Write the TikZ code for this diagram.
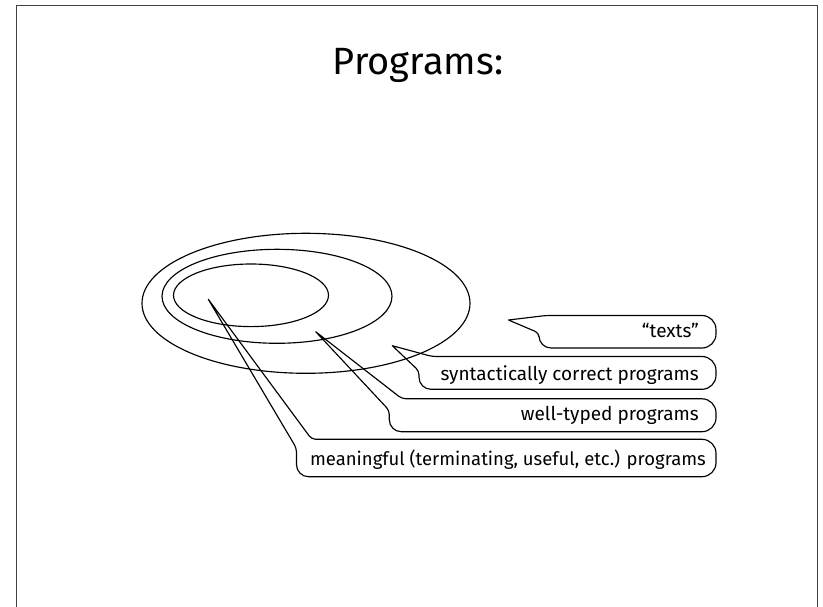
\documentclass[tikz,border=0pt]{standalone}
\usepackage{fontspec}
\setmainfont{Fira Sans}
\begin{document}
\begin{tikzpicture}[x=1pt,y=-1pt,
  outline/.style={line width=1.15pt,black},
  frameline/.style={line width=1pt,black!75},
  label/.style={font=\fontsize{19}{22}\selectfont,inner sep=0pt,anchor=base east},
  title/.style={font=\fontsize{38}{44}\selectfont,inner sep=0pt,anchor=base}]
\useasboundingbox (0,0) rectangle (823,607);

% slide frame
\draw[frameline] (16,607) -- (16,6) -- (817,6) -- (817,607);

% heading
\node[title] (heading) at (418,75) {Programs:};

% nested sets
\draw[outline] (306,303.3) ellipse[x radius=164,y radius=70];
\draw[outline] (277,296.3) ellipse[x radius=115,y radius=47];
\draw[outline] (251,295.3) ellipse[x radius=77.5,y radius=31.3];

% points inside each set
\coordinate (tipTexts) at (508.5,320);
\coordinate (tipSyn)   at (392.3,345.7);
\coordinate (tipWT)    at (315.7,331.7);
\coordinate (tipMean)  at (208.3,299.3);

% callout: #1 left, #2 right, #3 top, #4 bottom, #5 tip, #6 x where the pointer meets the top, #7 y where it meets the left side
\newcommand{\calloutbox}[7]{%
  \draw[outline,line join=round,line cap=round]
    (#5) [rounded corners=4pt] -- (#6,#3)
    [rounded corners=14pt] -- (#2,#3) -- (#2,#4)
    [rounded corners=12pt] -- (#1,#4)
    [rounded corners=4pt] -- (#1,#7)
    [sharp corners] -- (#5);}

\calloutbox{539}{716}{315.5}{348}{tipTexts}{546}{333}
\calloutbox{419}{716}{356.5}{389.3}{tipSyn}{432}{371}
\calloutbox{389.3}{716}{398.8}{431.7}{tipWT}{402}{410.5}
\calloutbox{296.5}{716}{439.3}{476.7}{tipMean}{311.7}{448.3}

\node[label] (texts) at (699,337.7) {“texts”};
\node[label] (syn)   at (699,380)   {syntactically correct programs};
\node[label] (wt)    at (699,420.7) {well-typed programs};
\node[label,font=\fontsize{18.5}{22}\selectfont] (mean) at (706,465) {meaningful (terminating, useful, etc.) programs};
\end{tikzpicture}
\end{document}
